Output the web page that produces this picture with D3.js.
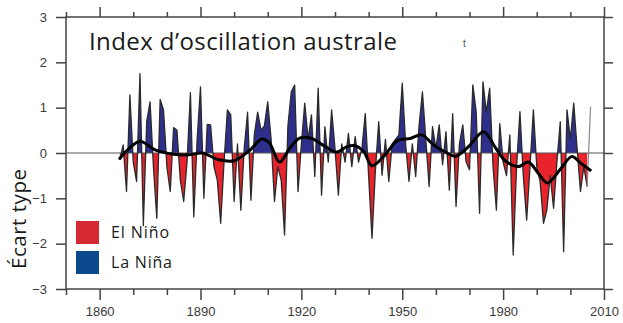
<!DOCTYPE html>
<html>
<head>
<meta charset="utf-8">
<script src="https://cdn.jsdelivr.net/npm/d3@7"></script>
<style>
  body { margin: 0; background: #fff; }
  text { font-family: "Liberation Sans", Arial, sans-serif; }
</style>
</head>
<body>
<svg id="chart" width="623" height="323"></svg>
<script>
// annual SOI anomaly (standard deviations), 1866 .. 2006
const firstYear = 1866;
const soiValues = [
  -0.15, 0.18, -0.85, 1.28, -0.2, -0.63, 1.75, -1.6, 0.69, 1.13,
  -0.3, -1.44, 1.18, 0.95, -0.3, -0.85, 0.56, 0.5, -0.6, -1.07,
  -0.2, 1.33, -1.41, 0.3, 1.46, -1.0, 0.63, 0.62, -0.3, -0.6,
  -1.55, -0.2, 0.95, 0.84, -1.07, 0.2, -1.26, 0.1, 0.9, -1.04,
  0.4, 0.9, 0.5, 0.6, 1.13, 0.3, -1.07, -0.3, -0.6, -1.81,
  0.6, 1.35, 1.5, -0.85, 0.2, 1.1, 0.3, 0.84, -0.52, 1.43,
  -0.93, 0.58, -0.2, 0.95, 0.1, -0.93, 0.2, -0.2, 0.43, -0.3,
  0.36, -0.2, 0.1, 0.87, -0.5, -1.88, -0.4, 0.69, -0.49, 0.3,
  -0.63, 0.2, 0.3, 0.4, 1.54, 0.2, -0.63, 0.2, -0.52, 0.6,
  1.35, 0.3, -0.74, 0.58, 0.1, 0.62, -0.26, 0.47, -0.82, 0.87,
  -1.18, 0.2, 0.62, -0.2, -0.37, 1.5, 0.9, -1.33, 1.57, 0.9,
  1.43, -0.3, -1.26, 0.65, -0.2, -0.5, 0.4, -2.25, -0.3, 0.91,
  -0.5, -1.48, -0.3, 0.95, -0.3, -0.63, -1.55, -1.26, -0.5, -1.22,
  -0.2, 0.69, -2.18, 0.95, 0.3, 1.1, 0.1, -0.85, -0.3, -0.74,
  1.02
];

// decadal smoothed curve
const smoothYears = [1866, 1868.5, 1872, 1876.5, 1881.5, 1886.5, 1890.5, 1895.5, 1900, 1904.5,
  1908.3, 1910.5, 1913.5, 1916.5, 1919.5, 1922.7, 1927, 1930.3, 1933.6, 1936,
  1938.5, 1941, 1945, 1948.5, 1952.4, 1955.8, 1959.3, 1962.8, 1965.8, 1969.7,
  1974.2, 1977.7, 1980.6, 1984.5, 1987.5, 1990.5, 1993.2, 1997, 2000.4, 2003, 2005.9];
const smoothValues = [-0.12, 0.08, 0.26, 0.07, -0.02, -0.04, 0.0, -0.15, -0.17, 0.05,
  0.31, 0.22, -0.2, 0.1, 0.33, 0.33, 0.15, 0.02, 0.14, 0.16,
  0.04, -0.28, -0.03, 0.27, 0.32, 0.4, 0.18, 0.02, -0.07, 0.14,
  0.47, 0.12, -0.17, -0.3, -0.2, -0.45, -0.66, -0.36, -0.08, -0.22, -0.38];

const yTicks = [-3, -2, -1, 0, 1, 2, 3];
const xMajorTicks = [1860, 1890, 1920, 1950, 1980, 2010];
const xMinorTicks = [1850, 1870, 1880, 1900, 1910, 1930, 1940, 1960, 1970, 1990, 2000];
const legendItems = [
  { label: 'El Niño', color: '#d42832', len: 58 },
  { label: 'La Niña', color: '#0c4a8f', len: 61 }
];

const svg = d3.select('#chart');
const margin = { top: 17, right: 19, bottom: 34, left: 66 };
const width = 623 - margin.left - margin.right;
const height = 323 - margin.top - margin.bottom;

const x = d3.scaleLinear().domain([1850, 2010]).range([0, width]);
const y = d3.scaleLinear().domain([-3, 3]).range([height, 0]);

const g = svg.append('g').attr('transform', `translate(${margin.left},${margin.top})`);

const series = soiValues.map((v, i) => ({ year: firstYear + i, value: v }));
const mainSeries = series.slice(0, series.length - 1);
const tailSeries = series.slice(series.length - 2);

const defs = svg.append('defs');
defs.append('clipPath').attr('id', 'above')
  .append('rect').attr('x', 0).attr('y', 0).attr('width', width).attr('height', y(0));
defs.append('clipPath').attr('id', 'below')
  .append('rect').attr('x', 0).attr('y', y(0)).attr('width', width).attr('height', height - y(0));

const area = d3.area()
  .x(d => x(d.year))
  .y0(y(0))
  .y1(d => y(d.value));

const line = d3.line()
  .x(d => x(d.year))
  .y(d => y(d.value));

g.append('path').datum(mainSeries)
  .attr('clip-path', 'url(#above)')
  .attr('fill', '#2e2f8c')
  .attr('d', area);

g.append('path').datum(mainSeries)
  .attr('clip-path', 'url(#below)')
  .attr('fill', '#e8232b')
  .attr('d', area);

// zero line
g.append('line')
  .attr('x1', 0).attr('x2', width)
  .attr('y1', y(0)).attr('y2', y(0))
  .attr('stroke', '#555').attr('stroke-width', 1);

g.append('path').datum(mainSeries)
  .attr('fill', 'none')
  .attr('stroke', '#2a2a2a')
  .attr('stroke-width', 1.3)
  .attr('stroke-linejoin', 'round')
  .attr('d', line);

g.append('path').datum(tailSeries)
  .attr('fill', 'none')
  .attr('stroke', '#888')
  .attr('stroke-width', 1.2)
  .attr('d', line);

const smooth = smoothYears.map((yr, i) => ({ year: yr, value: smoothValues[i] }));
g.append('path').datum(smooth)
  .attr('fill', 'none')
  .attr('stroke', '#000')
  .attr('stroke-width', 3)
  .attr('stroke-linecap', 'round')
  .attr('d', d3.line().x(d => x(d.year)).y(d => y(d.value)).curve(d3.curveCatmullRom));

// frame and axes
const axisColor = '#444';
g.append('rect')
  .attr('width', width).attr('height', height)
  .attr('fill', 'none').attr('stroke', axisColor).attr('stroke-width', 1.5);

const leftAxis = g.append('g').call(d3.axisLeft(y).tickValues(yTicks).tickSize(10).tickPadding(9)
  .tickFormat(d => d < 0 ? '\u2212' + Math.abs(d) : d));
const rightAxis = g.append('g').attr('transform', `translate(${width},0)`)
  .call(d3.axisRight(y).tickValues(yTicks).tickSize(9).tickFormat(''));
const bottomAxis = g.append('g').attr('transform', `translate(0,${height})`)
  .call(d3.axisBottom(x).tickValues(xMajorTicks).tickSize(11).tickPadding(7).tickFormat(d3.format('d')));
const bottomMinor = g.append('g').attr('transform', `translate(0,${height})`)
  .call(d3.axisBottom(x).tickValues(xMinorTicks).tickSize(6).tickFormat(''));
const topAxis = g.append('g').call(d3.axisTop(x).tickValues(xMajorTicks).tickSize(10).tickFormat(''));
const topMinor = g.append('g').call(d3.axisTop(x).tickValues(xMinorTicks).tickSize(5).tickFormat(''));

[leftAxis, rightAxis, bottomAxis, bottomMinor, topAxis, topMinor].forEach(a => {
  a.select('.domain').remove();
  a.selectAll('line').attr('stroke', axisColor).attr('stroke-width', 1.5);
  a.selectAll('text').attr('fill', '#3a3a3a').style('font-size', '13px');
});

// title
g.append('text')
  .attr('x', 89 - margin.left).attr('y', 50 - margin.top)
  .attr('textLength', 308).attr('lengthAdjust', 'spacing')
  .style('font-family', '"Open Sans", sans-serif')
  .style('font-size', '24px')
  .attr('fill', '#1a1a1a')
  .text('Index d\u2019oscillation australe');

g.append('text')
  .attr('x', 463 - margin.left).attr('y', 47 - margin.top)
  .style('font-size', '10px').attr('fill', '#555')
  .text('t');

// y label
svg.append('text')
  .attr('transform', 'translate(26,219) rotate(-90)')
  .attr('text-anchor', 'middle')
  .attr('textLength', 100).attr('lengthAdjust', 'spacing')
  .style('font-family', '"Open Sans", sans-serif')
  .style('font-size', '20.5px')
  .attr('fill', '#1a1a1a')
  .text('Écart type');

// legend
const legend = svg.selectAll('.legend')
  .data(legendItems)
  .enter()
  .append('g')
  .attr('class', 'legend')
  .attr('transform', (d, i) => `translate(76,${221 + i * 30})`);

legend.append('rect')
  .attr('width', 23).attr('height', 23)
  .attr('fill', d => d.color);

legend.append('text')
  .attr('x', 35).attr('y', 17)
  .attr('textLength', d => d.len).attr('lengthAdjust', 'spacing')
  .style('font-family', '"Open Sans", sans-serif')
  .style('font-size', '16px')
  .attr('fill', '#1a1a1a')
  .text(d => d.label);
</script>
</body>
</html>
